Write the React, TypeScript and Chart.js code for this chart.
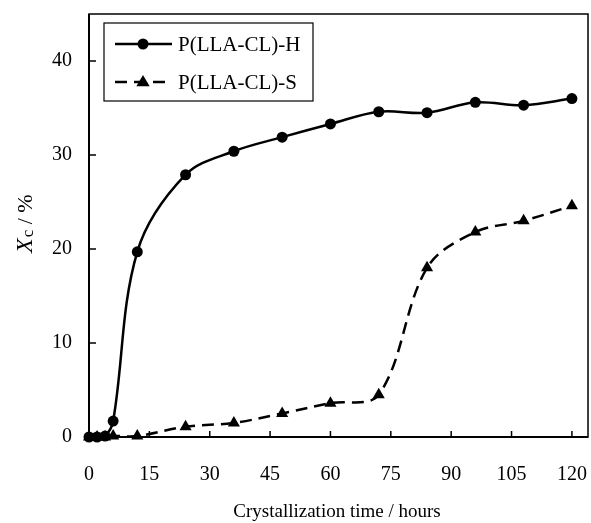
import React, { useEffect, useRef } from "react";
import { Chart, registerables } from "chart.js";

Chart.register(...registerables);

const hoursH = [0, 2, 4, 6, 12, 24, 36, 48, 60, 72, 84, 96, 108, 120];
const xcH = [0, 0, 0.1, 1.7, 19.7, 27.9, 30.4, 31.9, 33.3, 34.6, 34.5, 35.6, 35.3, 36.0];
const hoursS = [0, 2, 4, 6, 12, 24, 36, 48, 60, 72, 84, 96, 108, 120];
const xcS = [0, 0, 0, 0.1, 0.1, 1.1, 1.5, 2.5, 3.6, 4.5, 18.0, 21.8, 23.0, 24.6];
const seriesLabels = ["P(LLA-CL)-H", "P(LLA-CL)-S"];
const xTitle = "Crystallization time / hours";

const SERIF = "'Liberation Serif', 'Times New Roman', serif";

const decorPlugin = {
  id: "decor",
  afterDraw(chart: any) {
    const ctx = chart.ctx;
    const { left, right, top, bottom } = chart.chartArea;
    ctx.save();
    // frame
    ctx.strokeStyle = "#000";
    ctx.lineWidth = 1.5;
    ctx.strokeRect(left, top, right - left, bottom - top);
    ctx.lineWidth = 2;
    ctx.beginPath();
    ctx.moveTo(left, top);
    ctx.lineTo(left, bottom);
    ctx.lineTo(right, bottom);
    ctx.stroke();
    // inward ticks
    ctx.lineWidth = 1.5;
    const xs = chart.scales.x;
    const ys = chart.scales.y;
    xs.ticks.forEach((t: any) => {
      const px = xs.getPixelForValue(t.value);
      ctx.beginPath();
      ctx.moveTo(px, bottom);
      ctx.lineTo(px, bottom - 6);
      ctx.stroke();
    });
    ys.ticks.forEach((t: any) => {
      const py = ys.getPixelForValue(t.value);
      ctx.beginPath();
      ctx.moveTo(left, py);
      ctx.lineTo(left + 7, py);
      ctx.stroke();
    });
    // x title
    ctx.fillStyle = "#000";
    ctx.font = `19px ${SERIF}`;
    ctx.textAlign = "center";
    ctx.textBaseline = "alphabetic";
    ctx.fillText(xTitle, 337, 517);
    // y title (rotated) Xc / %
    ctx.save();
    ctx.translate(32, 253);
    ctx.rotate(-Math.PI / 2);
    ctx.textAlign = "left";
    ctx.font = `italic 24px ${SERIF}`;
    ctx.fillText("X", 0, 0);
    let w = ctx.measureText("X").width;
    ctx.font = `17px ${SERIF}`;
    ctx.fillText("c", w + 1, 1);
    w += 1 + ctx.measureText("c").width;
    ctx.font = `22px ${SERIF}`;
    ctx.fillText(" / %", w, 0);
    ctx.restore();
    // legend
    const bx = 104, by = 23, bw = 209, bh = 78;
    ctx.fillStyle = "#fff";
    ctx.fillRect(bx, by, bw, bh);
    ctx.strokeStyle = "#000";
    ctx.lineWidth = 1.2;
    ctx.strokeRect(bx, by, bw, bh);
    const rows = [44, 82];
    chart.data.datasets.forEach((ds: any, i: number) => {
      const yy = rows[i];
      ctx.strokeStyle = "#000";
      ctx.lineWidth = 2.5;
      ctx.setLineDash(ds.borderDash || []);
      ctx.beginPath();
      ctx.moveTo(115, yy);
      ctx.lineTo(172, yy);
      ctx.stroke();
      ctx.setLineDash([]);
      ctx.fillStyle = "#000";
      if (ds.pointStyle === "triangle") {
        const r = 7;
        ctx.beginPath();
        ctx.moveTo(143, yy - r);
        ctx.lineTo(143 + r * 0.95, yy + r * 0.6);
        ctx.lineTo(143 - r * 0.95, yy + r * 0.6);
        ctx.closePath();
        ctx.fill();
      } else {
        ctx.beginPath();
        ctx.arc(143, yy, 5.5, 0, Math.PI * 2);
        ctx.fill();
      }
      ctx.font = `21px ${SERIF}`;
      ctx.textAlign = "left";
      ctx.textBaseline = "middle";
      ctx.fillText(ds.label, 178, yy + 1);
    });
    ctx.restore();
  },
};

export default function App() {
  const ref = useRef<HTMLCanvasElement>(null);
  useEffect(() => {
    if (!ref.current) return;
    const chart = new Chart(ref.current, {
      type: "line",
      data: {
        datasets: [
          {
            label: seriesLabels[0],
            data: hoursH.map((h, i) => ({ x: h, y: xcH[i] })),
            borderColor: "#000",
            backgroundColor: "#000",
            borderWidth: 2.5,
            pointStyle: "circle",
            pointRadius: 5.5,
            pointBorderWidth: 0,
            tension: 0.35,
            clip: false,
          },
          {
            label: seriesLabels[1],
            data: hoursS.map((h, i) => ({ x: h, y: xcS[i] })),
            borderColor: "#000",
            backgroundColor: "#000",
            borderWidth: 2.5,
            borderDash: [12, 7],
            pointStyle: "triangle",
            pointRadius: 7,
            pointBorderWidth: 0,
            tension: 0.35,
            clip: false,
          },
        ],
      },
      options: {
        responsive: false,
        animation: false,
        layout: { autoPadding: false, padding: { top: 14, right: 3, left: 0, bottom: 0 } },
        plugins: { legend: { display: false }, tooltip: { enabled: false } },
        scales: {
          x: {
            type: "linear",
            min: 0,
            max: 124,
            grid: { display: false, drawTicks: false },
            border: { display: false },
            ticks: {
              stepSize: 15,
              includeBounds: false,
              color: "#000",
              font: { family: SERIF, size: 20 },
              padding: 26,
              maxRotation: 0,
            },
            afterFit(scale: any) {
              scale.height = 86;
              scale.paddingLeft = 0;
              scale.paddingRight = 0;
            },
          },
          y: {
            type: "linear",
            min: 0,
            max: 45,
            grid: { display: false, drawTicks: false },
            border: { display: false },
            ticks: {
              stepSize: 10,
              includeBounds: false,
              color: "#000",
              font: { family: SERIF, size: 20 },
              padding: 17,
            },
            afterFit(scale: any) {
              scale.width = 89;
              scale.paddingTop = 0;
              scale.paddingBottom = 0;
            },
          },
        },
      },
      plugins: [decorPlugin],
    });
    return () => chart.destroy();
  }, []);
  return (
    <div style={{ position: "absolute", left: 0, top: 0, width: 591, height: 523, background: "#fff" }}>
      <canvas ref={ref} width={591} height={523} style={{ display: "block" }} />
    </div>
  );
}
